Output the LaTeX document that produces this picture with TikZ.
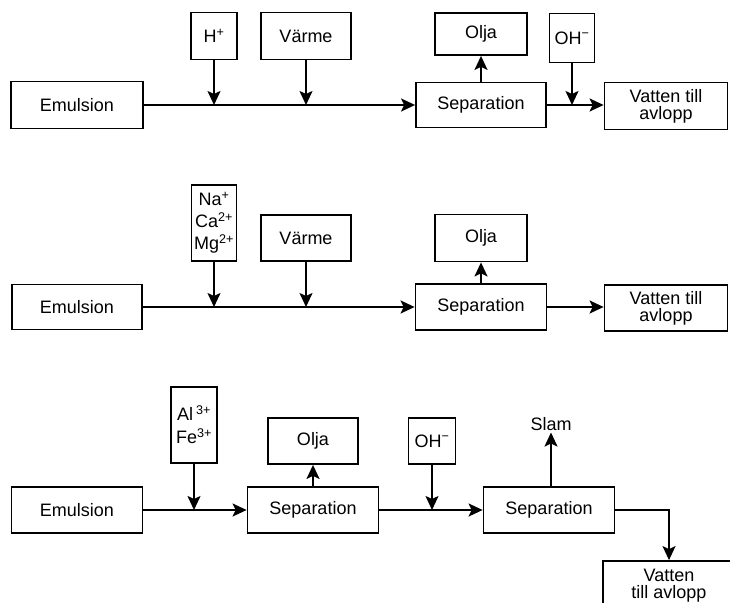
\documentclass[tikz,border=0pt]{standalone}
\usepackage{fontspec}
\setmainfont{Liberation Sans}
\usetikzlibrary{arrows.meta}
\begin{document}
\begin{tikzpicture}[x=1pt, y=-1pt, line width=1.8pt,
        box/.style={draw, align=center, inner sep=1pt, font=\fontsize{18}{21}\selectfont},
        lbl/.style={inner sep=1pt, font=\fontsize{18}{21}\selectfont},
        flow/.style={-{Stealth[length=14pt,width=13pt,inset=3pt]}}]
        \clip (0,0) rectangle (730,602);
        \fill[white] (0,0) rectangle (730,602);

        \node[box, minimum width=132, minimum height=47] (E1) at (77, 105) {Emulsion};
        \node[box, minimum width=46, minimum height=47] (H1) at (214, 36) {H\textsuperscript{+}};
        \node[box, minimum width=90, minimum height=47] (V1) at (306, 36) {Värme};
        \node[box, minimum width=130, minimum height=45] (S1) at (481, 105) {Separation};
        \node[box, minimum width=92, minimum height=42] (O1) at (481, 34) {Olja};
        \node[box, minimum width=45, minimum height=49] (OH1) at (572, 38) {OH\textsuperscript{−}};
        \node[box, minimum width=123, minimum height=47] (W1) at (666, 106) {Vatten till\\[-4pt]avlopp};
        \path [flow] (E1) edge (S1);
        \path [flow] (H1) edge (H1 |- E1);
        \path [flow] (V1) edge (V1 |- E1);
        \path [flow] (S1) edge (O1);
        \path [flow] (S1) edge (S1 -| W1.west);
        \path [flow] (OH1) edge (OH1 |- S1);

        \node[box, minimum width=130, minimum height=45] (E2) at (77, 307) {Emulsion};
        \node[box, minimum width=45, minimum height=76] (I2) at (214, 223) {Na\textsuperscript{+}\\[1pt]Ca\textsuperscript{2+}\\[1pt]Mg\textsuperscript{2+}};
        \node[box, minimum width=90, minimum height=46] (V2) at (306, 238) {Värme};
        \node[box, minimum width=131, minimum height=46] (S2) at (481, 307) {Separation};
        \node[box, minimum width=92, minimum height=47] (O2) at (481, 238) {Olja};
        \node[box, minimum width=123, minimum height=46] (W2) at (666, 308) {Vatten till\\[-4pt]avlopp};
        \path [flow] (E2) edge (S2);
        \path [flow] (I2) edge (I2 |- E2);
        \path [flow] (V2) edge (V2 |- E2);
        \path [flow] (S2) edge (O2);
        \path [flow] (S2) edge (S2 -| W2.west);

        \node[box, minimum width=131, minimum height=46] (E3) at (77, 510) {Emulsion};
        \node[box, minimum width=46, minimum height=76] (I3) at (194, 425) {Al\,\textsuperscript{3+}\\[2pt]Fe\textsuperscript{3+}};
        \node[box, minimum width=131, minimum height=46] (SA3) at (313, 510) {Separation};
        \node[box, minimum width=90, minimum height=46] (O3) at (313, 441) {Olja};
        \node[box, minimum width=47, minimum height=46] (OH3) at (432, 441) {OH\textsuperscript{−}};
        \node[box, minimum width=131, minimum height=46] (SB3) at (549, 510) {Separation};
        \node[lbl] (SL3) at (551, 424) {Slam};
        \node[box, minimum width=132, minimum height=50] (W3) at (669, 586) {Vatten\\[-4pt]till avlopp};
        \path [flow] (E3) edge (SA3);
        \path [flow] (I3) edge (I3 |- E3);
        \path [flow] (SA3) edge (O3);
        \path [flow] (SA3) edge (SB3);
        \path [flow] (OH3) edge (OH3 |- SA3);
        \path [flow] (SL3 |- SB3.north) edge (SL3);
        \draw [flow] (SB3) -| (W3);
\end{tikzpicture}
\end{document}
